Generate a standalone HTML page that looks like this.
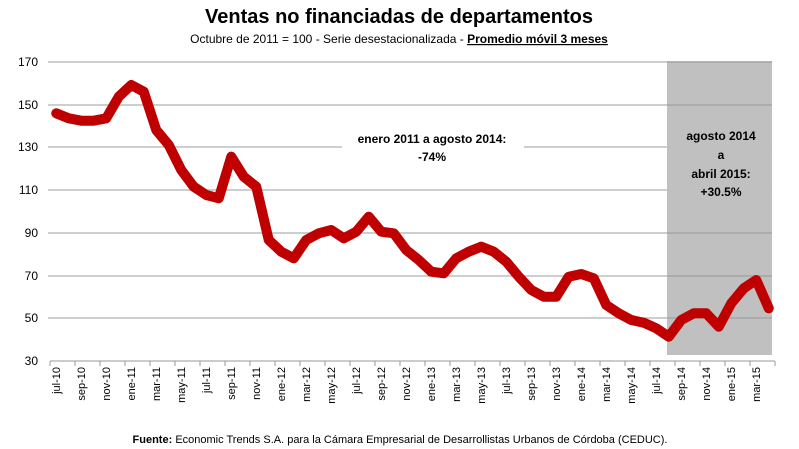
<!DOCTYPE html>
<html><head><meta charset="utf-8"><style>
body{margin:0;background:#fff;}
svg{display:block;font-family:"Liberation Sans",Arial,sans-serif;}
</style></head><body>
<svg width="799" height="449" viewBox="0 0 799 449">
<text x="399" y="23" font-size="20" font-weight="bold" text-anchor="middle">Ventas no financiadas de departamentos</text>
<text x="399" y="43" font-size="12" text-anchor="middle">Octubre de 2011 = 100 - Serie desestacionalizada - <tspan font-weight="bold" text-decoration="underline">Promedio móvil 3 meses</tspan></text>
<rect x="667" y="62" width="105" height="293" fill="#c0c0c0"/>
<g stroke="#bdbdbd" stroke-width="1.5">
<line x1="48" x2="772" y1="62" y2="62"/>
<line x1="48" x2="772" y1="105" y2="105"/>
<line x1="48" x2="772" y1="147" y2="147"/>
<line x1="48" x2="772" y1="190" y2="190"/>
<line x1="48" x2="772" y1="233" y2="233"/>
<line x1="48" x2="772" y1="276" y2="276"/>
<line x1="48" x2="772" y1="318" y2="318"/>
</g>
<g stroke="#a6a6a6" stroke-width="1.5">
<line x1="667" x2="772" y1="62" y2="62"/>
<line x1="667" x2="772" y1="105" y2="105"/>
<line x1="667" x2="772" y1="233" y2="233"/>
<line x1="667" x2="772" y1="276" y2="276"/>
<line x1="667" x2="772" y1="318" y2="318"/>
</g>
<rect x="342" y="128" width="182" height="36" fill="#fff"/>
<rect x="673" y="124" width="94" height="75" fill="#c0c0c0"/>
<line x1="50" x2="775" y1="361" y2="361" stroke="#999" stroke-width="1"/>
<g stroke="#999" stroke-width="1" id="ticks"></g>
<g font-size="12" text-anchor="end" fill="#000">
<text x="38" y="66">170</text><text x="38" y="109">150</text><text x="38" y="151">130</text><text x="38" y="194">110</text><text x="38" y="237">90</text><text x="38" y="280">70</text><text x="38" y="322">50</text><text x="38" y="365">30</text>
</g>
<g font-size="12" font-weight="bold" text-anchor="middle">
<text x="432" y="143">enero 2011 a agosto 2014:</text>
<text x="432" y="161">-74%</text>
<text x="721" y="140">agosto 2014</text>
<text x="721" y="159">a</text>
<text x="721" y="178">abril 2015:</text>
<text x="721" y="196">+30.5%</text>
</g>
<polyline fill="none" stroke="#c00000" stroke-width="10" stroke-linejoin="round" stroke-linecap="round" points="
56.25,113.3 68.75,118.3 81.25,120.7 93.75,120.7 106.25,118.3 118.75,96.7 131.25,85 143.75,91.7 156.25,130 168.75,145 181.25,170 193.75,186.7 206.25,195 218.75,198.3 231.25,156.7 243.75,176.7 256.25,186.7 268.75,240 281.25,251.7 293.75,258.3 306.25,240 318.75,233.3 331.25,230 343.75,238.3 356.25,231.7 368.75,216.7 381.25,231.7 393.75,233.3 406.25,250 418.75,260 431.25,271.7 443.75,273.3 456.25,258.3 468.75,251.7 481.25,246.7 493.75,251.7 506.25,261.7 518.75,276.7 531.25,290 543.75,296.7 556.25,296.7 568.75,276.7 581.25,274 593.75,278.3 606.25,305 618.75,313.3 631.25,320 643.75,322.7 656.25,328.3 668.75,336.7 681.25,320 693.75,313.3 706.25,313.3 718.75,326.7 731.25,303.3 743.75,288.3 756.25,280 768.75,308.3"/>
<g font-size="11" text-anchor="end" id="xl">
<text transform="translate(60,367) rotate(-90)">jul-10</text>
<text transform="translate(85,367) rotate(-90)">sep-10</text>
<text transform="translate(110,367) rotate(-90)">nov-10</text>
<text transform="translate(135,367) rotate(-90)">ene-11</text>
<text transform="translate(160,367) rotate(-90)">mar-11</text>
<text transform="translate(185,367) rotate(-90)">may-11</text>
<text transform="translate(210,367) rotate(-90)">jul-11</text>
<text transform="translate(235,367) rotate(-90)">sep-11</text>
<text transform="translate(260,367) rotate(-90)">nov-11</text>
<text transform="translate(285,367) rotate(-90)">ene-12</text>
<text transform="translate(310,367) rotate(-90)">mar-12</text>
<text transform="translate(335,367) rotate(-90)">may-12</text>
<text transform="translate(360,367) rotate(-90)">jul-12</text>
<text transform="translate(385,367) rotate(-90)">sep-12</text>
<text transform="translate(410,367) rotate(-90)">nov-12</text>
<text transform="translate(435,367) rotate(-90)">ene-13</text>
<text transform="translate(460,367) rotate(-90)">mar-13</text>
<text transform="translate(485,367) rotate(-90)">may-13</text>
<text transform="translate(510,367) rotate(-90)">jul-13</text>
<text transform="translate(535,367) rotate(-90)">sep-13</text>
<text transform="translate(560,367) rotate(-90)">nov-13</text>
<text transform="translate(585,367) rotate(-90)">ene-14</text>
<text transform="translate(610,367) rotate(-90)">mar-14</text>
<text transform="translate(635,367) rotate(-90)">may-14</text>
<text transform="translate(660,367) rotate(-90)">jul-14</text>
<text transform="translate(685,367) rotate(-90)">sep-14</text>
<text transform="translate(710,367) rotate(-90)">nov-14</text>
<text transform="translate(735,367) rotate(-90)">ene-15</text>
<text transform="translate(760,367) rotate(-90)">mar-15</text>
</g>
<g stroke="#999" stroke-width="1">
<path d="M50 361v5M75 361v5M100 361v5M125 361v5M150 361v5M175 361v5M200 361v5M225 361v5M250 361v5M275 361v5M300 361v5M325 361v5M350 361v5M375 361v5M400 361v5M425 361v5M450 361v5M475 361v5M500 361v5M525 361v5M550 361v5M575 361v5M600 361v5M625 361v5M650 361v5M675 361v5M700 361v5M725 361v5M750 361v5M775 361v5"/>
</g>
<text x="400" y="443" font-size="11" text-anchor="middle"><tspan font-weight="bold">Fuente:</tspan> Economic Trends S.A. para la Cámara Empresarial de Desarrollistas Urbanos de Córdoba (CEDUC).</text>
</svg>
</body></html>
